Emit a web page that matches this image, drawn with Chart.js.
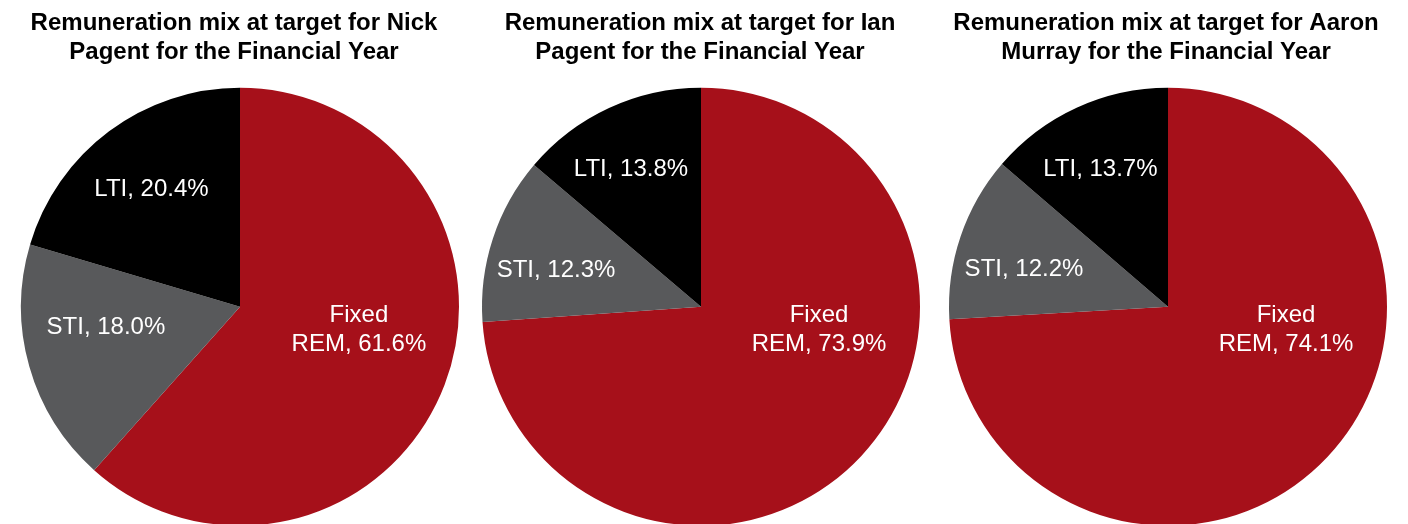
<!DOCTYPE html>
<html>
<head>
<meta charset="utf-8">
<script src="https://cdn.jsdelivr.net/npm/chart.js@4/dist/chart.umd.min.js"></script>
<style>
  html, body { margin: 0; padding: 0; background: #ffffff; overflow: hidden; width: 1408px; height: 524px; }
  canvas { position: absolute; top: 0; }
</style>
</head>
<body>
<canvas id="c1" width="468" height="526" style="left:0px"></canvas>
<canvas id="c2" width="468" height="526" style="left:466px"></canvas>
<canvas id="c3" width="468" height="526" style="left:932px"></canvas>
<script>
// ---- Data ----
const categories = ['Fixed REM', 'STI', 'LTI'];
const labelLines = [['Fixed', 'REM'], ['STI'], ['LTI']];
const nickValues = [61.6, 18.0, 20.4];
const ianValues = [73.9, 12.3, 13.8];
const aaronValues = [74.1, 12.2, 13.7];
const titles = [
  ['Remuneration mix at target for Nick', 'Pagent for the Financial Year'],
  ['Remuneration mix at target for Ian', 'Pagent for the Financial Year'],
  ['Remuneration mix at target for Aaron', 'Murray for the Financial Year']
];
const seriesList = [nickValues, ianValues, aaronValues];
const colors = ['#A6101A', '#58595B', '#000000'];

// label placement relative to each slice's bisector: [angle offset (deg), fraction of radius]
const labelPlacement = [
  [[-10, 0.553], [7.3, 0.619], [-0.4, 0.67]],
  [[-32, 0.549], [-3.9, 0.683], [-2.1, 0.706]],
  [[-32.4, 0.549], [-4.3, 0.679], [-1.5, 0.70]]
];
const padding = [
  { left: 21, right: 9 },
  { left: 16, right: 14 },
  { left: 17, right: 13 }
];
const titleShift = [-6, -1, -2];

const titleNudge = {
  id: 'titleNudge',
  afterLayout(chart, args, opts) {
    const t = chart.titleBlock;
    if (t) { t.left += opts.shift; t.right += opts.shift; }
  }
};

const sliceLabels = {
  id: 'sliceLabels',
  afterDatasetsDraw(chart, args, opts) {
    const ctx = chart.ctx;
    const meta = chart.getDatasetMeta(0);
    const data = chart.data.datasets[0].data;
    ctx.save();
    ctx.fillStyle = '#ffffff';
    ctx.font = '24px "Liberation Sans", Arial, sans-serif';
    ctx.textAlign = 'center';
    ctx.textBaseline = 'middle';
    meta.data.forEach((arc, i) => {
      const p = arc.getProps(['x', 'y', 'startAngle', 'endAngle', 'outerRadius'], true);
      const mid = (p.startAngle + p.endAngle) / 2 + opts.placement[i][0] * Math.PI / 180;
      const r = p.outerRadius * opts.placement[i][1];
      const cx = p.x + Math.cos(mid) * r;
      const cy = p.y + Math.sin(mid) * r;
      const lines = labelLines[i].slice();
      const pct = data[i].toFixed(1) + '%';
      lines[lines.length - 1] = lines[lines.length - 1] + ', ' + pct;
      const lh = 28.8;
      const y0 = cy - (lines.length - 1) * lh / 2;
      lines.forEach((t, k) => ctx.fillText(t, cx, y0 + k * lh));
    });
    ctx.restore();
  }
};

['c1', 'c2', 'c3'].forEach((id, idx) => {
  new Chart(document.getElementById(id), {
    type: 'pie',
    data: {
      labels: categories,
      datasets: [{
        data: seriesList[idx],
        backgroundColor: colors,
        borderWidth: 0,
        hoverOffset: 0
      }]
    },
    options: {
      responsive: false,
      animation: false,
      devicePixelRatio: 1,
      events: [],
      layout: { padding: { left: padding[idx].left, right: padding[idx].right, top: 0, bottom: 0 } },
      plugins: {
        legend: { display: false },
        tooltip: { enabled: false },
        title: {
          display: true,
          text: titles[idx],
          color: '#000000',
          font: { family: '"Liberation Sans", Arial, sans-serif', size: 24, weight: 'bold', lineHeight: 1.2 },
          padding: { top: 9, bottom: 21 }
        },
        titleNudge: { shift: titleShift[idx] },
        sliceLabels: { placement: labelPlacement[idx] }
      }
    },
    plugins: [titleNudge, sliceLabels]
  });
});
</script>
</body>
</html>
